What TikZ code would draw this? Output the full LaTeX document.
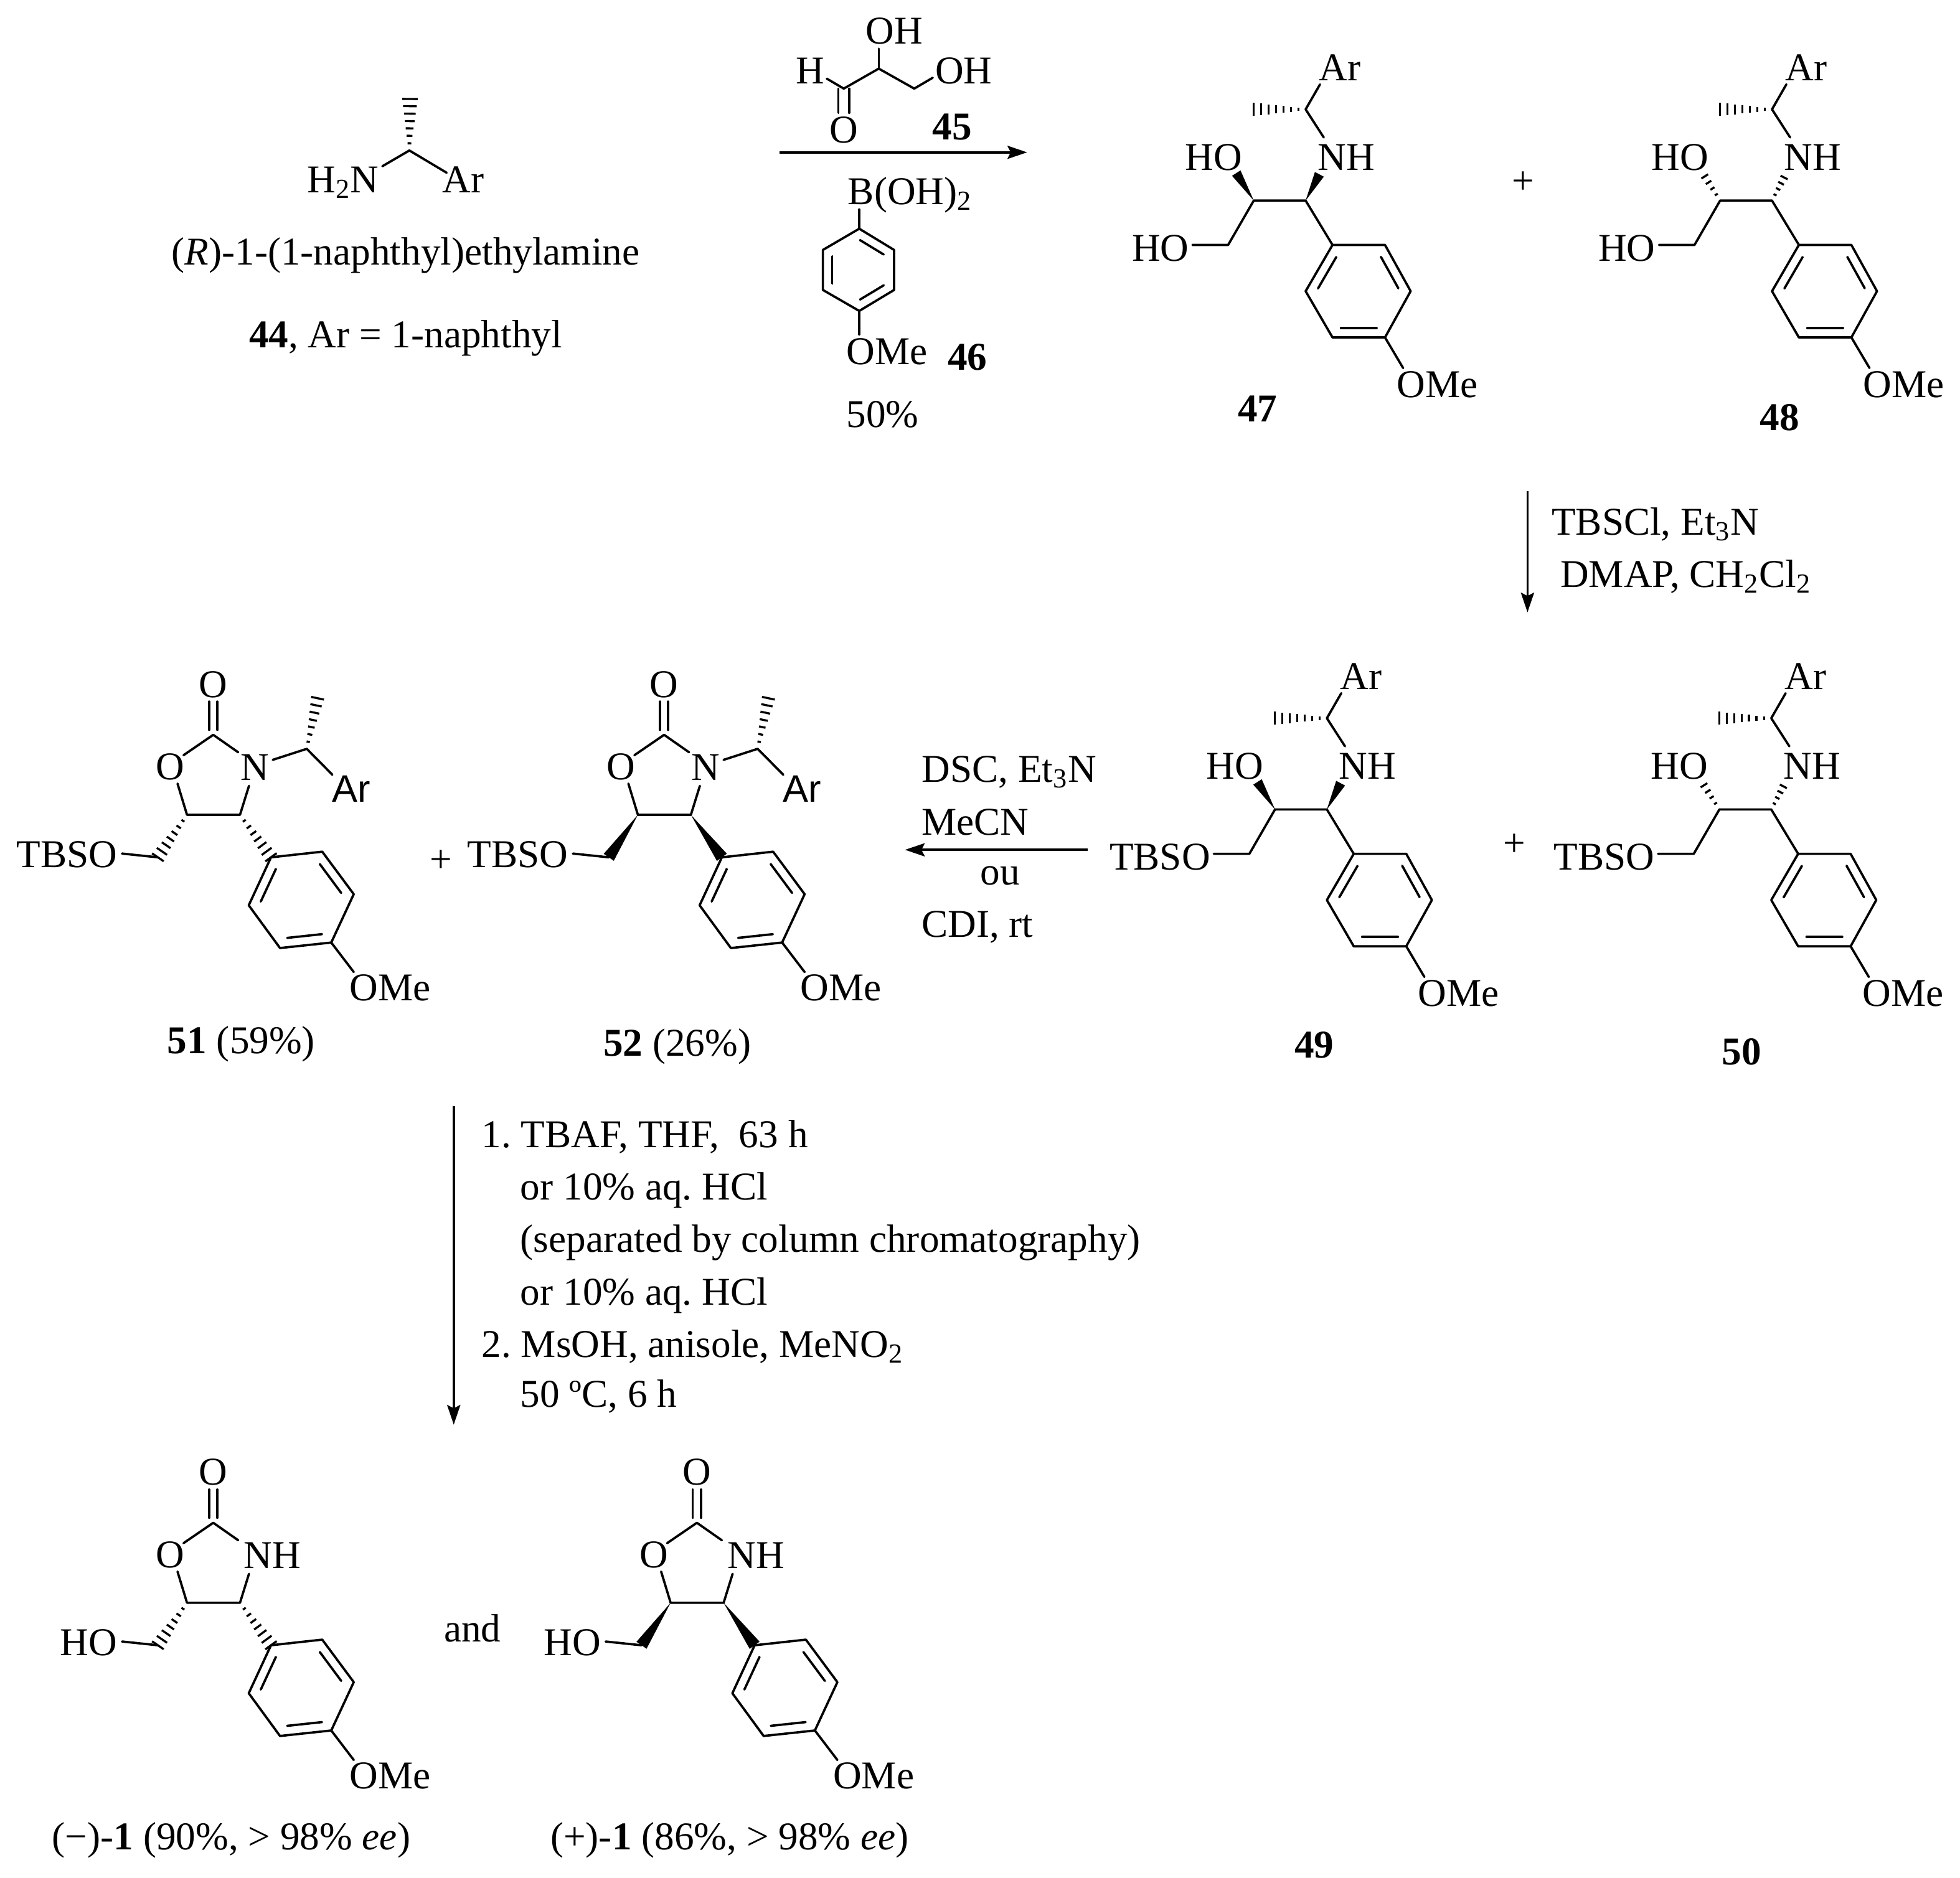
\documentclass[tikz,border=0pt]{standalone}
\usepackage{fontspec}
\setmainfont{Liberation Serif}
\newfontfamily\arialfam{Liberation Sans}
\usetikzlibrary{calc,arrows.meta}
\tikzset{
  bond/.style={line width=1.05pt,line cap=round,line join=round},
  hashbar/.style={line width=.95pt},
  lab/.style={inner sep=0pt,font=\fontsize{18pt}{21pt}\selectfont\frenchspacing},
  num/.style={inner sep=0pt,font=\fontsize{18pt}{21pt}\selectfont\bfseries},
  rxn/.style={line width=1.05pt,-{Stealth[length=9pt,width=6pt,inset=1.5pt]}},
}
\newcommand{\wedgeb}[3]{%
  \fill (#1) -- ($(#2)!#3pt!90:(#1)$) -- ($(#2)!#3pt!-90:(#1)$) -- cycle;}
\newcommand{\hashb}[3]{%
  \foreach \t [evaluate=\t as \w using 0.4+\t*#3] in {.14,.285,.43,.57,.715,.86,1}{%
    \coordinate (hp) at ($(#1)!\t!(#2)$);
    \draw[hashbar] ($(hp)!\w pt!90:(#1)$) -- ($(hp)!\w pt!-90:(#1)$);}}
\newcommand{\hashs}[3]{%
  \foreach \t [evaluate=\t as \w using 0.4+\t*1.6] in {.22,.44,.66,.88}{%
    \coordinate (hp) at ($(#1)!\t!(#2)$);
    \draw[hashbar] ($(hp)!\w pt!90:(#1)$) -- ($(hp)!\w pt!-90:(#1)$);}}
\newcommand{\inbond}[2]{%
  \coordinate (ia) at ($(#1)!.16!(#2)$);
  \coordinate (ib) at ($(#1)!.84!(#2)$);
  \draw[bond] ($(ia)!.15cm!90:(#2)$) -- ($(ib)!.15cm!-90:(#1)$);}
% amino diol: #1 name #2 x #3 y #4 stereo macro #5 chain label
\newcommand{\amine}[5]{%
\begin{scope}[shift={(#2,#3)},name prefix=#1-]
  \coordinate (cn) at (0,0); \coordinate (co) at (-41.5,0);
  \coordinate (wo) at (-55.5,-22); \coordinate (wn) at (11,-21);
  \coordinate (m) at (0,-73); \coordinate (me) at (-41.5,-73);
  \coordinate (ear) at (11.5,-93); \coordinate (enh) at (14.5,-50.5);
  \coordinate (ch) at (-62,35.5); \coordinate (eho) at (-90.5,35.5);
  \coordinate (tl) at (21.5,35.5); \coordinate (tr) at (63.5,35.5);
  \coordinate (r) at (84,72.5); \coordinate (br) at (63.5,109.5);
  \coordinate (bl) at (21.5,109.5); \coordinate (l) at (0,72.5);
  \coordinate (eome) at (78,134);
  \node[lab] (nh) at (32.5,-34.5) {NH};
  \node[lab] (ho) at (-73.5,-34.5) {HO};
  \node[lab] (ar) at (27.5,-106.5) {Ar};
  \node[lab,anchor=east] (chain) at (-93,38) {#5};
  \node[lab] (ome) at (105.5,147) {OMe};
  \draw[bond] (ear) -- (m) -- (enh);
  \hashb{m}{me}{2.6}
  #4{co}{wo}{2.3}
  #4{cn}{wn}{2.3}
  \draw[bond] (eho) -- (ch) -- (co) -- (cn) -- (tl);
  \draw[bond] (tl) -- (tr) -- (r) -- (br) -- (bl) -- (l) -- cycle;
  \inbond{tl}{l} \inbond{bl}{br} \inbond{r}{tr}
  \draw[bond] (br) -- (eome);
\end{scope}}
% oxazolidinone: #1 name #2 x #3 y #4 stereo #5 chain label #6 extra
\newcommand{\oxa}[6]{%
\begin{scope}[shift={(#2,#3)},name prefix=#1-]
  \coordinate (c) at (0,0);
  \coordinate (dla) at (-3.3,-26.6); \coordinate (dlb) at (-3.3,-4);
  \coordinate (dra) at (3.3,-26.6); \coordinate (drb) at (3.3,-4);
  \coordinate (eo1) at (-23.8,16.3); \coordinate (en1) at (20,14);
  \coordinate (eo2) at (-28.6,39); \coordinate (en2) at (28.6,40.8);
  \coordinate (c5) at (-21,64); \coordinate (c4) at (21.4,64);
  \coordinate (ch) at (-44.3,98); \coordinate (eho) at (-73,95);
  \coordinate (tl) at (46.2,98); \coordinate (tr) at (87.2,93.5);
  \coordinate (r) at (112.4,127.5); \coordinate (br) at (94.4,166.2);
  \coordinate (bl) at (53.4,170.6); \coordinate (l) at (28.4,136.4);
  \coordinate (eome) at (112.4,189.8);
  \node[lab] (cdo) at (0,-40.4) {O};
  \node[lab] (rngo) at (-34.3,25.8) {O};
  \node[lab,anchor=east] (chain) at (-76.5,95.7) {#5};
  \node[lab] (ome) at (141.4,202.4) {OMe};
  \draw[bond] (dla) -- (dlb) (dra) -- (drb);
  \draw[bond] (eo1) -- (c) -- (en1);
  \draw[bond] (eo2) -- (c5) -- (c4) -- (en2);
  #4{c5}{ch}{2.8}
  #4{c4}{tl}{2.8}
  \draw[bond] (eho) -- (ch);
  \draw[bond] (tl) -- (tr) -- (r) -- (br) -- (bl) -- (l) -- cycle;
  \inbond{tl}{l} \inbond{bl}{br} \inbond{r}{tr}
  \draw[bond] (br) -- (eome);
  #6
\end{scope}}
\newcommand{\nsub}{%
  \coordinate (ens) at (47.6,20); \coordinate (cha) at (74.8,11.2);
  \coordinate (ear) at (95.3,31.9); \coordinate (eme) at (83.4,-29.3);
  \node[lab] (n) at (33.4,25.8) {N};
  \node[lab,font=\fontsize{17.5pt}{21pt}\arialfam] (ar) at (110.4,43) {Ar};
  \draw[bond] (ens) -- (cha) -- (ear);
  \hashb{cha}{eme}{2.6}}
\newcommand{\nhlab}{\node[lab] (nh) at (47.2,26) {NH};}
\begin{document}
\begin{tikzpicture}[x=0.020077cm,y=-0.020077cm]
\useasboundingbox (0,0) rectangle (1568,1502.7);
\fill[white] (0,0) rectangle (1568,1502.7);

% --- 44
\coordinate (c44) at (327.5,120.4);
\coordinate (a44n) at (305.9,133);
\coordinate (a44ar) at (357.3,138.2);
\coordinate (a44me) at (328,79.2);
\node[lab,anchor=base west] (h2n) at (245.4,154.2) {H\textsubscript{2}N};
\node[lab,anchor=base west] (ar44) at (353.7,154.2) {Ar};
\draw[bond] (a44n) -- (c44) -- (a44ar);
\hashb{c44}{a44me}{3.2}
\node[lab,anchor=base] (t44a) at (324.5,211.7) {(\textit{R})-1-(1-naphthyl)ethylamine};
\node[lab,anchor=base] (t44b) at (324.5,278.4) {\textbf{44}, Ar = 1-naphthyl};

% --- reagents
\node[lab] (r45oh) at (715.3,24.7) {OH};
\node[lab] (r45h) at (648.4,56.7) {H};
\node[lab] (r45oh2) at (771,56.7) {OH};
\node[lab] (r45o) at (675,104) {O};
\node[num] (l45) at (761.7,101.8) {45};
\coordinate (g1) at (703,54.9); \coordinate (g1o) at (703,38.9);
\coordinate (g2) at (675,70.9); \coordinate (g2h) at (661.4,62.9);
\coordinate (g3) at (731.4,70.9); \coordinate (g3o) at (746.2,62.2);
\coordinate (gda) at (670.7,71); \coordinate (gdb) at (670.7,90.3);
\coordinate (gdc) at (679.3,71); \coordinate (gdd) at (679.3,90.3);
\draw[bond] (g2h) -- (g2) -- (g1) -- (g3) -- (g3o);
\draw[bond] (g1) -- (g1o);
\draw[bond] (gda) -- (gdb) (gdc) -- (gdd);

\coordinate (ra1) at (623.7,121.9); \coordinate (ra2) at (821.7,121.9);
\draw[rxn] (ra1) -- (ra2);

\node[lab,anchor=base west] (boh) at (678,163.5) {B(OH)\textsubscript{2}};
\coordinate (bb) at (687.4,167.6);
\coordinate (p1) at (687.4,183); \coordinate (p2) at (658.3,200);
\coordinate (p3) at (658.3,232); \coordinate (p4) at (687.4,248.8);
\coordinate (p5) at (715.3,232); \coordinate (p6) at (715.3,200);
\coordinate (pome) at (687.4,267.6);
\draw[bond] (bb) -- (p1);
\draw[bond] (p1) -- (p2) -- (p3) -- (p4) -- (p5) -- (p6) -- cycle;
\inbond{p2}{p3} \inbond{p4}{p5} \inbond{p6}{p1}
\draw[bond] (p4) -- (pome);
\node[lab,anchor=base west] (ome46) at (677,291.6) {OMe};
\node[num,anchor=base] (l46) at (774,296) {46};
\node[lab,anchor=base] (y50) at (706,341.9) {50\%};

% --- 47 48
\amine{m47}{1044.5}{160.5}{\wedgeb}{HO}
\amine{m48}{1417.6}{160.5}{\hashs}{HO}
\node[lab] (plus1) at (1218.4,146.4) {+};
\node[num] (l47) at (1006,327) {47};
\node[num] (l48) at (1423.8,334) {48};

% --- TBS arrow
\coordinate (rb1) at (1222,393); \coordinate (rb2) at (1222,490);
\draw[rxn] (rb1) -- (rb2);
\node[lab,anchor=base west] (tbs1) at (1241,428) {TBSCl, Et\textsubscript{3}N};
\node[lab,anchor=base west] (tbs2) at (1248,470) {DMAP, CH\textsubscript{2}Cl\textsubscript{2}};

% --- 49 50
\amine{m49}{1061.5}{647.7}{\wedgeb}{TBSO}
\amine{m50}{1417}{647.7}{\hashs}{TBSO}
\node[lab] (plus2) at (1211.5,676) {+};
\node[num] (l49) at (1051.4,836) {49};
\node[num] (l50) at (1393.2,841.6) {50};

% --- DSC arrow
\coordinate (rc1) at (870,680); \coordinate (rc2) at (724,680);
\draw[rxn] (rc1) -- (rc2);
\node[lab,anchor=base west] (dsc1) at (737,626) {DSC, Et\textsubscript{3}N};
\node[lab,anchor=base west] (dsc2) at (737,668) {MeCN};
\node[lab,anchor=base] (dsc3) at (800,708) {ou};
\node[lab,anchor=base west] (dsc4) at (737,750) {CDI, rt};

% --- 51 52
\oxa{m51}{170.6}{588}{\hashb}{TBSO}{\nsub}
\oxa{m52}{531.3}{588}{\wedgeb}{TBSO}{\nsub}
\node[lab] (plus3) at (353,689) {+};
\node[lab,anchor=base] (l51) at (193,843) {\textbf{51} (59\%)};
\node[lab,anchor=base] (l52) at (541.8,845) {\textbf{52} (26\%)};

% --- long arrow
\coordinate (rd1) at (363,885); \coordinate (rd2) at (363,1140);
\draw[rxn] (rd1) -- (rd2);
\node[lab,anchor=base west] (s1) at (385,918) {1. TBAF, THF,~~63 h};
\node[lab,anchor=base west] (s2) at (416,960) {or 10\% aq. HCl};
\node[lab,anchor=base west] (s3) at (416,1002) {(separated by column chromatography)};
\node[lab,anchor=base west] (s4) at (416,1044) {or 10\% aq. HCl};
\node[lab,anchor=base west] (s5) at (385,1086) {2. MsOH, anisole, MeNO\textsubscript{2}};
\node[lab,anchor=base west] (s6) at (416,1126) {50 ºC, 6 h};

% --- 1
\oxa{mm}{170.6}{1218.5}{\hashb}{HO}{\nhlab}
\oxa{mp}{557.5}{1218.5}{\wedgeb}{HO}{\nhlab}
\node[lab] (and) at (377.9,1302.8) {and};
\node[lab,anchor=base] (lm) at (185,1480) {(−)-\textbf{1} (90\%, > 98\% \textit{ee})};
\node[lab,anchor=base] (lp) at (583.7,1480) {(+)-\textbf{1} (86\%, > 98\% \textit{ee})};
\end{tikzpicture}
\end{document}
